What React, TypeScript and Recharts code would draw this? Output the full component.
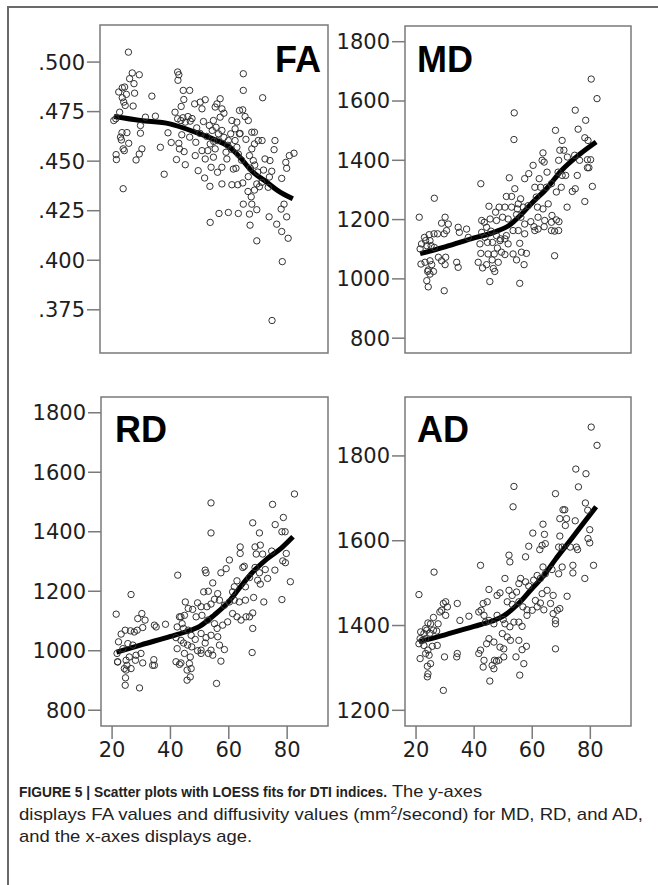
import React from "react";
import { ComposedChart, Scatter, Line, XAxis, YAxis, ReferenceArea } from "recharts";

// ---------- DATA (age, value) ----------
const faPoints: [number, number][] = [
  [25.9,.505],[27.2,.4945],[29.6,.4936],[26.3,.4916],[27.8,.4891],[24.6,.4874],[23.8,.487],[22.6,.4849],[25.2,.4837],[28.0,.4843],
  [23.8,.482],[24.3,.4798],[24.8,.4781],[27.5,.4778],[22.9,.4747],[21.6,.4714],[20.9,.4705],[23.7,.4644],[25.4,.4644],[23.2,.4621],
  [23.5,.4607],[26.0,.459],[24.1,.4562],[24.5,.4553],[30.5,.4562],[29.6,.4536],[21.7,.4533],[21.8,.4508],[28.5,.4506],[24.1,.4361],
  [33.9,.4828],[30.0,.468],[30.0,.4641],[31.7,.4722],[35.1,.4727],[36.8,.457],[38.1,.4434],[39.4,.4643],[40.5,.4594],[42.3,.4508],
  [41.8,.4747],[42.7,.495],[43.1,.4936],[42.8,.4908],[44.6,.4857],[46.8,.4857],[44.8,.4811],[43.9,.4776],[42.7,.4714],[43.8,.4705],
  [44.5,.4719],[45.3,.4697],[47.0,.4702],[44.1,.4633],[43.1,.459],[43.3,.4562],[44.9,.4548],[45.3,.4482],[46.8,.4621],[48.5,.4789],
  [50.4,.4798],[52.1,.481],[51.0,.4764],[48.9,.4595],[48.7,.4528],[51.0,.4553],[49.7,.4452],[51.9,.4415],[53.7,.4373],[53.8,.4191],
  [52.1,.4511],[53.0,.4553],[53.8,.4587],[54.5,.4655],[54.9,.4705],[55.5,.4773],[56.1,.4789],[57.2,.4815],[57.8,.4764],[58.5,.4742],
  [57.2,.4722],[55.8,.4671],[56.6,.4638],[57.8,.4655],[56.3,.4604],[55.5,.4562],[54.9,.452],[54.1,.4469],[56.3,.4444],[57.8,.4469],
  [57.8,.4385],[59.2,.4545],[59.5,.4511],[60.0,.4604],[60.8,.4638],[61.2,.4705],[62.9,.4697],[63.8,.4756],[64.9,.4759],[65.7,.4725],
  [65.1,.4857],[65.1,.4941],[71.7,.482],[66.8,.4705],[62.3,.4663],[63.8,.4638],[62.3,.4604],[62.9,.457],[63.4,.4536],[61.7,.446],
  [62.6,.4464],[61.2,.4381],[63.2,.4381],[64.9,.439],[66.8,.4422],[66.7,.4347],[67.8,.432],[68.9,.4354],[69.7,.4385],[70.6,.4371],
  [71.4,.4393],[68.5,.4503],[67.2,.4528],[68.0,.4562],[68.9,.4587],[70.2,.4604],[68.0,.4646],[68.9,.4646],[71.5,.4604],[72.5,.4511],
  [75.9,.4604],[75.6,.4558],[74.2,.4503],[74.8,.4449],[78.2,.4413],[79.6,.4494],[79.9,.4464],[80.8,.4528],[82.4,.454],[65.1,.4283],
  [68.0,.4283],[69.7,.4255],[73.6,.4368],[56.8,.4236],[60.0,.4241],[63.4,.4236],[67.2,.4233],[67.4,.4177],[69.7,.4098],[73.9,.4219],
  [76.5,.4182],[78.0,.4258],[79.0,.4283],[79.9,.4219],[78.2,.4145],[80.4,.4111],[78.4,.3993],[74.9,.3696],
  [46.2,.4725],[47.6,.4715],[49.2,.4668],[50.3,.464],[52.6,.4625],[51.5,.47],[53.5,.468],[55.0,.46],[58.5,.462],[59.8,.458],
  [61.0,.456],[64.0,.464],[66.0,.461],[64.5,.4505],[67.5,.4465],[70.0,.4445],[72.0,.4455],[74.0,.442],[69.0,.448],
];
const faLoess: [number, number][] = [
  [21,.4725],[30,.4705],[40,.4688],[48,.465],[56,.4604],[60,.4575],[64,.4519],[68,.445],[73,.4395],[77,.435],[82,.431],
];

const mdPoints: [number, number][] = [
  [80.3,1674],[82.3,1608],[74.8,1569],[78.4,1535],[53.8,1560],[53.7,1470],[68.0,1501],[75.8,1505],[78.1,1476],[79.2,1467],
  [70.3,1467],[69.5,1434],[70.9,1434],[72.1,1411],[69.1,1400],[63.7,1425],[63.4,1400],[64.1,1394],[60.3,1383],[65.1,1360],
  [68.9,1360],[70.3,1349],[71.5,1349],[74.6,1417],[76.3,1400],[79.0,1402],[80.1,1402],[79.0,1375],[79.5,1375],[75.5,1349],
  [74.8,1304],[73.8,1295],[80.7,1312],[78.1,1261],[72.0,1242],[70.0,1309],[68.3,1293],[66.6,1321],[64.9,1309],[62.9,1309],
  [60.9,1309],[62.4,1338],[58.8,1355],[57.4,1338],[52.1,1341],[54.0,1304],[51.1,1278],[52.9,1278],[56.0,1270],[55.2,1253],
  [56.9,1242],[58.6,1247],[61.4,1276],[61.8,1242],[63.7,1236],[65.5,1253],[66.8,1214],[68.3,1199],[69.2,1193],[66.6,1191],
  [64.3,1197],[62.0,1208],[60.6,1176],[59.5,1193],[57.4,1185],[56.1,1208],[54.9,1236],[52.9,1242],[50.6,1242],[48.6,1242],
  [47.4,1225],[45.1,1245],[42.3,1321],[42.6,1197],[43.5,1191],[44.3,1174],[45.5,1202],[47.7,1197],[49.8,1208],[51.7,1202],
  [54.6,1217],[55.2,1163],[53.4,1163],[51.1,1146],[50.6,1135],[49.1,1135],[47.7,1146],[45.8,1161],[42.6,1157],[43.7,1140],
  [42.0,1118],[44.6,1123],[46.3,1123],[48.9,1129],[51.7,1118],[55.7,1120],[57.4,1152],[56.3,1090],[58.0,1086],[53.4,1084],
  [50.6,1082],[49.4,1090],[48.0,1104],[46.9,1084],[44.8,1084],[42.3,1086],[46.2,1064],[48.3,1056],[46.6,1035],[44.3,1048],
  [41.4,1056],[42.9,1037],[47.1,1025],[45.4,991],[55.7,985],[57.2,1048],[54.6,1064],[67.7,1078],[67.7,1161],[69.1,1163],
  [66.6,1163],[64.1,1176],[62.0,1168],[60.9,1163],[37.4,1168],[34.5,1174],[38.0,1140],[34.9,1157],[31.1,1185],[30.0,1208],
  [28.8,1188],[30.5,1163],[29.7,1152],[27.4,1152],[26.2,1152],[24.5,1149],[22.9,1140],[21.9,1118],[21.4,1101],[23.7,1112],
  [25.2,1112],[26.3,1106],[24.8,1129],[23.3,1129],[26.3,1272],[21.1,1208],[21.7,1050],[23.1,1056],[24.8,1061],[25.4,1048],
  [24.2,1030],[24.0,1025],[26.0,1025],[24.8,1016],[23.7,994],[24.2,973],[29.7,960],[27.7,1073],[28.8,1061],[30.2,1073],
  [30.0,1048],[34.0,1056],[34.5,1039],
];
const mdLoess: [number, number][] = [
  [21.4,1085],[30,1108],[40,1138],[47,1158],[52,1180],[56,1215],[60,1257],[65,1305],[70,1365],[76,1418],[82,1462],
];

const rdPoints: [number, number][] = [
  [82.5,1527],[75.0,1492],[53.9,1497],[53.9,1396],[68.2,1430],[75.9,1424],[78.7,1448],[78.2,1400],[79.3,1400],[70.5,1396],
  [63.9,1349],[69.0,1349],[70.8,1355],[71.6,1325],[69.4,1325],[63.9,1327],[60.2,1305],[64.8,1280],[65.3,1284],[69.0,1280],
  [70.5,1262],[72.5,1273],[74.7,1335],[75.8,1271],[78.5,1302],[79.7,1327],[79.4,1296],[73.3,1243],[69.9,1237],[70.8,1224],
  [67.1,1246],[65.7,1215],[62.8,1235],[61.9,1215],[61.3,1198],[59.1,1276],[57.3,1262],[54.5,1228],[53.0,1200],[51.4,1198],
  [52.2,1262],[51.9,1271],[42.5,1254],[26.5,1189],[21.4,1123],[45.1,1164],[46.1,1142],[49.3,1161],[50.5,1148],[52.5,1148],
  [53.9,1157],[55.1,1173],[56.2,1192],[56.8,1170],[58.5,1153],[60.2,1164],[61.9,1170],[63.6,1164],[65.7,1170],[68.5,1179],
  [72.0,1164],[78.2,1172],[81.1,1232],[68.2,1127],[67.1,1114],[65.9,1114],[64.2,1103],[62.8,1114],[61.3,1125],[59.6,1097],
  [57.9,1086],[56.0,1075],[55.1,1091],[52.8,1103],[50.8,1119],[48.8,1114],[47.6,1139],[43.6,1114],[44.8,1119],[43.1,1114],
  [42.3,1080],[44.0,1091],[44.5,1075],[46.1,1069],[47.1,1052],[48.5,1038],[50.5,1058],[52.2,1044],[53.9,1052],[56.2,1047],
  [56.8,1019],[53.9,1002],[53.0,991],[51.9,1026],[50.5,1002],[49.3,1000],[47.3,1013],[45.9,1019],[44.5,1026],[43.6,1035],
  [41.9,1044],[42.3,1007],[44.8,991],[46.8,979],[50.5,991],[54.5,985],[57.3,965],[58.5,1004],[68.2,1075],[68.0,994],
  [38.3,1089],[35.1,1080],[34.5,1086],[31.3,1103],[30.5,1078],[28.8,1108],[30.2,1125],[28.6,1069],[27.6,1063],[26.3,1067],
  [24.5,1069],[23.1,1056],[22.2,1030],[25.4,1024],[27.1,1019],[23.7,1007],[21.7,991],[21.9,963],[24.8,968],[25.9,979],
  [28.2,985],[29.9,991],[28.0,968],[30.5,959],[34.3,970],[34.5,951],[25.1,951],[24.2,940],[24.8,935],[41.9,963],
  [43.1,954],[43.6,959],[46.5,957],[45.7,935],[47.1,940],[46.8,912],[45.7,901],[24.6,909],[24.5,884],[29.4,875],
  [55.8,890],[21.9,962],[33.9,951],[26.5,940],
];
const rdLoess: [number, number][] = [
  [21.5,995],[30,1020],[40,1048],[45,1063],[50,1082],[55,1120],[60,1165],[64,1215],[68,1262],[73,1308],[78,1345],[82,1383],
];

const adPoints: [number, number][] = [
  [80.3,1868],[82.3,1825],[75.0,1769],[78.5,1758],[53.7,1728],[53.4,1680],[68.0,1711],[75.9,1727],[78.3,1689],[79.1,1672],
  [70.6,1673],[71.2,1673],[69.5,1652],[71.8,1652],[74.8,1647],[71.4,1636],[63.7,1639],[60.2,1618],[64.2,1615],[69.5,1611],
  [79.8,1626],[79.2,1605],[79.8,1595],[81.1,1542],[78.1,1511],[74.0,1524],[74.0,1542],[72.0,1469],[75.2,1585],[75.6,1579],
  [73.1,1585],[70.3,1585],[69.1,1585],[64.5,1593],[63.4,1589],[62.6,1579],[58.8,1587],[57.7,1562],[52.0,1566],[52.3,1550],
  [42.2,1542],[26.2,1526],[21.0,1473],[70.3,1538],[69.1,1522],[66.8,1532],[64.5,1522],[63.7,1538],[61.7,1518],[62.8,1511],
  [60.5,1507],[58.8,1493],[57.7,1503],[56.0,1511],[55.4,1499],[54.6,1479],[53.1,1471],[52.0,1483],[50.6,1511],[51.4,1456],
  [53.1,1450],[55.4,1456],[56.8,1444],[58.2,1437],[60.0,1436],[61.7,1444],[64.0,1437],[66.3,1452],[67.2,1428],[68.6,1436],
  [69.5,1440],[68.0,1412],[68.0,1404],[62.8,1453],[61.1,1459],[63.4,1475],[65.1,1483],[67.2,1471],[48.9,1477],[47.9,1471],
  [45.1,1485],[44.5,1456],[43.1,1452],[42.4,1436],[41.6,1432],[43.4,1424],[43.9,1408],[45.1,1412],[46.8,1404],[47.9,1424],
  [50.0,1414],[50.6,1404],[52.3,1397],[53.7,1408],[55.4,1408],[56.5,1398],[58.2,1424],[49.7,1381],[51.4,1373],[52.5,1365],
  [55.4,1365],[58.0,1351],[56.5,1343],[50.2,1345],[48.9,1349],[46.8,1361],[45.1,1369],[44.3,1357],[42.2,1342],[41.6,1334],
  [43.4,1318],[43.1,1302],[47.0,1318],[46.2,1306],[47.7,1316],[48.5,1318],[50.2,1326],[46.8,1298],[54.4,1326],[57.1,1310],
  [55.7,1283],[45.4,1269],[68.0,1345],[38.2,1422],[35.1,1412],[34.2,1452],[30.2,1456],[30.8,1444],[29.4,1452],[28.8,1436],
  [28.2,1432],[30.2,1424],[27.6,1404],[26.0,1419],[25.0,1404],[24.1,1406],[23.3,1393],[23.7,1389],[22.7,1381],[21.6,1385],
  [22.2,1365],[21.4,1369],[23.3,1369],[24.8,1382],[26.0,1389],[27.1,1387],[27.3,1353],[25.6,1351],[29.8,1326],[34.2,1334],
  [34.0,1326],[21.4,1322],[23.3,1334],[24.1,1342],[24.5,1330],[25.0,1310],[23.9,1304],[24.1,1286],[23.9,1279],[29.4,1247],
  [22.7,1353],[21.0,1357],
];
const adLoess: [number, number][] = [
  [21,1362],[30,1378],[40,1398],[46,1410],[50,1422],[55,1450],[60,1488],[64,1518],[68,1556],[73,1600],[78,1645],[82,1680],
];

const xTicks = [20, 40, 60, 80];
const xDomain: [number, number] = [16.2, 94];
const faTicks = [0.375, 0.4, 0.425, 0.45, 0.475, 0.5];
const diffTicks = [800, 1000, 1200, 1400, 1600, 1800];
const adTicks = [1200, 1400, 1600, 1800];

// ---------- STYLE ----------
const BOX = "#7a7a7a";
const TICK_FONT = { fontSize: 21, fill: "#1e1e1e", fontFamily: "DejaVu Sans" };

const Circle = (props: any) => {
  const { cx, cy } = props;
  if (cx == null || cy == null) return null;
  return <circle cx={cx} cy={cy} r={3.2} fill="none" stroke="#333" strokeWidth={1} />;
};

type PanelProps = {
  left: number; top: number; w: number; h: number;
  points: [number, number][]; loess: [number, number][];
  yDomain: [number, number]; yTicks: number[];
  fmt?: (v: number) => string; showX: boolean;
};

function Panel({ left, top, w, h, points, loess, yDomain, yTicks, fmt, showX }: PanelProps) {
  const YW = 95, MT = 5, MR = 10, XH = 45;
  const pts = points.map(([x, y]) => ({ x, y }));
  const lp = loess.map(([x, y]) => ({ x, y }));
  return (
    <div style={{ position: "absolute", left: left - YW, top: top - MT }}>
      <ComposedChart width={YW + w + MR} height={MT + h + XH} margin={{ top: MT, right: MR, bottom: 0, left: 0 }}>
        <XAxis
          type="number" dataKey="x" domain={xDomain} ticks={xTicks} allowDataOverflow interval={0}
          axisLine={false} tickLine={{ stroke: BOX, strokeWidth: 1.5 }} tickSize={13} tickMargin={3}
          tick={showX ? TICK_FONT : false} height={XH}
        />
        <YAxis
          type="number" dataKey="y" domain={yDomain} ticks={yTicks} allowDataOverflow interval={0}
          axisLine={false} tickLine={{ stroke: BOX, strokeWidth: 1.5 }} tickSize={13} tickMargin={2}
          tick={TICK_FONT} tickFormatter={fmt} width={YW}
        />
        <ReferenceArea x1={xDomain[0]} x2={xDomain[1]} y1={yDomain[0]} y2={yDomain[1]}
          fill="none" fillOpacity={0} stroke={BOX} strokeWidth={1.5} ifOverflow="visible" />
        <Scatter data={pts} dataKey="y" isAnimationActive={false} shape={Circle} />
        <Line data={lp} dataKey="y" type="monotone" stroke="#000" strokeWidth={5} dot={false}
          activeDot={false} isAnimationActive={false} />
      </ComposedChart>
    </div>
  );
}

const faFmt = (v: number) => v.toFixed(3).replace(/^0/, "");

export default function App() {
  return (
    <div style={{ position: "absolute", left: 0, top: 0, width: 658, height: 885, background: "#fff", overflow: "hidden" }}>
      <div style={{ position: "absolute", left: 7, top: 6, width: 660, height: 890, borderTop: "2px solid #6a6a6a", borderLeft: "2px solid #6a6a6a" }} />
      <Panel left={100} top={25} w={228} h={328} points={faPoints} loess={faLoess}
        yDomain={[0.3532, 0.5187]} yTicks={faTicks} fmt={faFmt} showX={false} />
      <Panel left={405} top={26} w={226} h={327} points={mdPoints} loess={mdLoess}
        yDomain={[750, 1853]} yTicks={diffTicks} showX={false} />
      <Panel left={101} top={397} w={227} h={329} points={rdPoints} loess={rdLoess}
        yDomain={[747, 1853]} yTicks={diffTicks} showX={true} />
      <Panel left={405} top={397} w={226} h={329} points={adPoints} loess={adLoess}
        yDomain={[1163, 1939]} yTicks={adTicks} showX={true} />
      <svg width={658} height={885} style={{ position: "absolute", left: 0, top: 0, pointerEvents: "none" }}>
        <g fontFamily="Liberation Sans, Arial, sans-serif" fontWeight="bold" fontSize={36} fill="#000">
          <text x={321} y={72} textAnchor="end">FA</text>
          <text x={417} y={72}>MD</text>
          <text x={115} y={442}>RD</text>
          <text x={417} y={442}>AD</text>
        </g>
        <g fontFamily="Liberation Sans, Arial, sans-serif" fill="#222">
          <text x={19} y={797} fontWeight="bold" fontSize={13.8} textLength={368} lengthAdjust="spacingAndGlyphs">
            FIGURE 5 | Scatter plots with LOESS fits for DTI indices.
          </text>
          <text x={392} y={797} fontSize={17} textLength={90} lengthAdjust="spacingAndGlyphs">The y-axes</text>
          <text x={19} y={819.5} fontSize={17} textLength={624} lengthAdjust="spacingAndGlyphs">
            displays FA values and diffusivity values (mm<tspan fontSize={11} dy={-6}>2</tspan><tspan dy={6}>/second) for MD, RD, and AD,</tspan>
          </text>
          <text x={19} y={842} fontSize={17} textLength={233} lengthAdjust="spacingAndGlyphs">and the x-axes displays age.</text>
        </g>
      </svg>
    </div>
  );
}
